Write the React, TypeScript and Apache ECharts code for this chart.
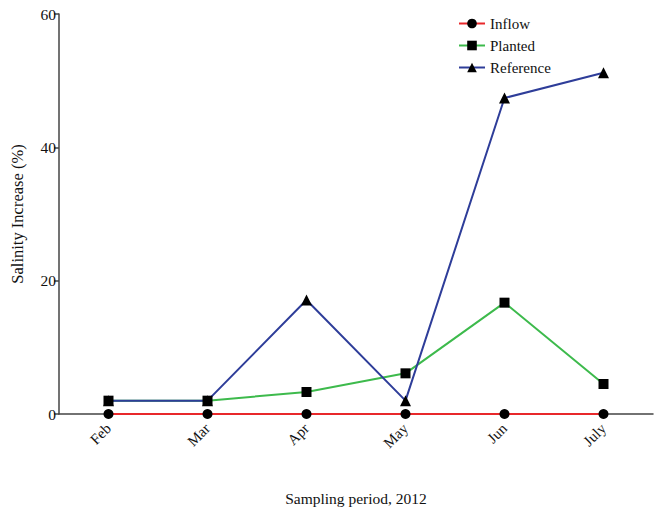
import React, { useEffect, useRef } from "react";
import * as echarts from "echarts";

const categories = ["Feb", "Mar", "Apr", "May", "Jun", "July"];
const inflow = [0, 0, 0, 0, 0, 0];
const planted = [2, 2, 3.3, 6.1, 16.7, 4.5];
const reference = [2, 2, 17.1, 2, 47.4, 51.2];

const FONT = "'Liberation Serif', 'Times New Roman', serif";

export default function App() {
  const ref = useRef<HTMLDivElement>(null);
  useEffect(() => {
    const chart = echarts.init(ref.current!, null, { renderer: "svg" });
    const mk = (name: string, data: number[], color: string, symbol: string, size: number) => ({
      name,
      type: "line",
      data,
      symbol,
      symbolSize: size,
      itemStyle: { color: "#000" },
      lineStyle: { color, width: 2 },
      emphasis: { disabled: true },
    });
    chart.setOption({
      animation: false,
      textStyle: { fontFamily: FONT },
      grid: { left: 59, right: 1, top: 14, bottom: 99, containLabel: false, outerBoundsMode: "none" },
      legend: {
        orient: "vertical",
        left: 453,
        top: 11,
        itemWidth: 26,
        itemHeight: 12,
        itemGap: 7,
        textStyle: { fontFamily: FONT, fontSize: 15, color: "#111" },
        data: ["Inflow", "Planted", "Reference"],
      },
      xAxis: {
        type: "category",
        data: categories,
        boundaryGap: true,
        name: "Sampling period, 2012",
        nameLocation: "middle",
        nameGap: 76,
        nameTextStyle: { fontFamily: FONT, fontSize: 15.5, color: "#111" },
        axisLine: { lineStyle: { color: "#444", width: 1.5 } },
        axisTick: { show: false },
        axisLabel: { rotate: 45, margin: 12, fontFamily: FONT, fontSize: 15, color: "#111" },
        splitLine: { show: false },
      },
      yAxis: {
        type: "value",
        min: 0,
        max: 60,
        interval: 20,
        name: "Salinity Increase (%)",
        nameLocation: "middle",
        nameGap: 33,
        nameTextStyle: { fontFamily: FONT, fontSize: 16.5, color: "#111" },
        axisLine: { show: true, lineStyle: { color: "#444", width: 1.5 } },
        axisTick: { show: true, length: 5, lineStyle: { color: "#444", width: 1.5 } },
        axisLabel: { margin: 3, fontFamily: FONT, fontSize: 15.5, color: "#111" },
        splitLine: { show: false },
      },
      series: [
        mk("Inflow", inflow, "#e8282b", "circle", 10),
        mk("Planted", planted, "#3dba4c", "rect", 10),
        mk("Reference", reference, "#2e3d99", "triangle", 11),
      ],
    });
    return () => chart.dispose();
  }, []);
  return <div ref={ref} style={{ width: 654, height: 513, position: "absolute", left: 0, top: 0 }} />;
}
